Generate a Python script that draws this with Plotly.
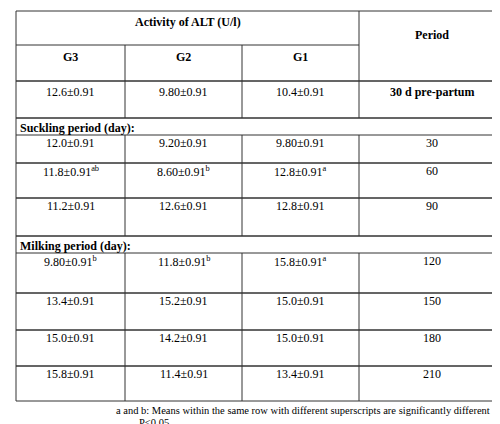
import plotly.graph_objects as go

periods = ["30 d pre-partum", "30", "60", "90", "120", "150", "180", "210"]
g3 = ["12.6±0.91", "12.0±0.91", "11.8±0.91", "11.2±0.91", "9.80±0.91", "13.4±0.91", "15.0±0.91", "15.8±0.91"]
g2 = ["9.80±0.91", "9.20±0.91", "8.60±0.91", "12.6±0.91", "11.8±0.91", "15.2±0.91", "14.2±0.91", "11.4±0.91"]
g1 = ["10.4±0.91", "9.80±0.91", "12.8±0.91", "12.8±0.91", "15.8±0.91", "15.0±0.91", "15.0±0.91", "13.4±0.91"]
sup3 = ["", "", "ab", "", "b", "", "", ""]
sup2 = ["", "", "b", "", "b", "", "", ""]
sup1 = ["", "", "a", "", "a", "", "", ""]
sections = {1: "Suckling period (day):", 4: "Milking period (day):"}
footnote = ["a and b: Means within the same row with different superscripts are significantly different at",
            "P<0.05."]

# layout in pixel units
col_x = [8, 117, 234, 351, 496]
row_tops = [73, 127, 155, 190, 245, 285, 322, 358]
row_bots = [110, 155, 190, 228, 285, 322, 358, 393]
band_tops = {1: 110, 4: 228}

FONT = dict(family="Liberation Serif", size=12, color="black")
LINE = dict(color="#333", width=1)

shapes, ann = [], []

def hline(y, x0=col_x[0], x1=col_x[-1]):
    shapes.append(dict(type="line", x0=x0, x1=x1, y0=y, y1=y, line=LINE))

def vline(x, y0, y1):
    shapes.append(dict(type="line", x0=x, x1=x, y0=y0, y1=y1, line=LINE))

def text(x, y, s, bold=False, anchor="center", size=12):
    ann.append(dict(x=x, y=y, text=f"<b>{s}</b>" if bold else s, showarrow=False,
                    xanchor=anchor, yanchor="middle",
                    font=dict(FONT, size=size)))

# header
hline(3)
hline(37, col_x[0], col_x[3])
hline(73)
vline(col_x[0], 3, 393)
vline(col_x[-1], 3, 393)
vline(col_x[3], 3, 73)
for x in col_x[1:3]:
    vline(x, 37, 73)
text((col_x[0] + col_x[3]) / 2, 14, "Activity of ALT (U/l)", bold=True)
text((col_x[3] + col_x[4]) / 2, 27, "Period", bold=True)
for i, g in enumerate(["G3", "G2", "G1"]):
    text((col_x[i] + col_x[i + 1]) / 2, 49, g, bold=True)

for r, p in enumerate(periods):
    top, bot = row_tops[r], row_bots[r]
    if r in sections:
        hline(band_tops[r])
        text(col_x[0] + 2, (band_tops[r] + top) / 2 + 1, sections[r], bold=True, anchor="left")
    hline(top)
    hline(bot)
    for x in col_x[1:4]:
        vline(x, top, bot)
    ty = top + (11 if r == 0 else 8)
    for i, (vals, sups) in enumerate([(g3, sup3), (g2, sup2), (g1, sup1)]):
        s = vals[r] + (f"<sup>{sups[r]}</sup>" if sups[r] else "")
        text((col_x[i] + col_x[i + 1]) / 2, ty, s)
    text((col_x[3] + col_x[4]) / 2, ty, p, bold=(r == 0))

text(col_x[-1] - 2, 402, footnote[0], anchor="right", size=10.5)
text(129, 414, footnote[1], anchor="left", size=10.5)

fig = go.Figure()
fig.update_layout(width=500, height=424, margin=dict(l=0, r=0, t=0, b=0),
                  paper_bgcolor="white", plot_bgcolor="white",
                  xaxis=dict(range=[0, 500], visible=False, fixedrange=True),
                  yaxis=dict(range=[424, 0], visible=False, fixedrange=True),
                  shapes=shapes, annotations=ann, showlegend=False)
fig.write_html("out.html")
